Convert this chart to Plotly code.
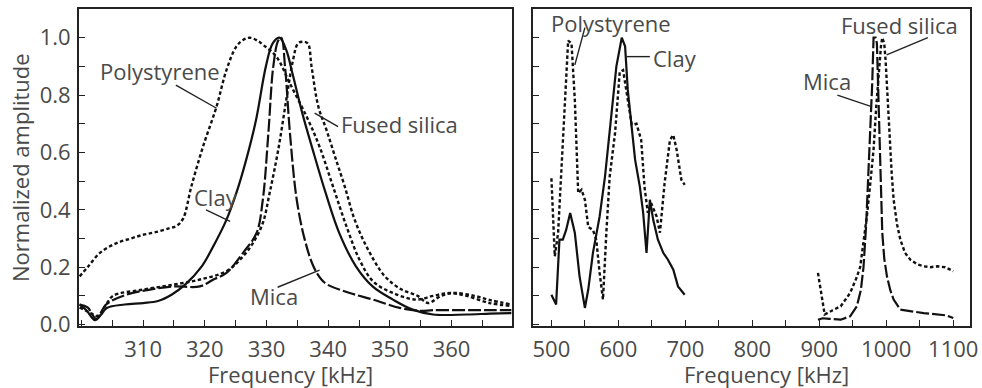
import plotly.graph_objects as go
from plotly.subplots import make_subplots

# ---------------- Left panel data (300-370 kHz) ----------------
ps_l_x = [299.7, 301, 303, 305.7, 308, 310, 312, 314.3, 315.5, 316.5, 317.8, 319.7, 321.9, 323.5, 325.1, 326.2,
          327.3, 328.5, 329.5, 331.6, 333.8, 336.5, 338.6, 340.8, 343, 345.1, 347.3, 350.5, 354.3, 357, 359.7, 362.4, 366.2, 369.7]
ps_l_y = [0.168, 0.2, 0.25, 0.284, 0.3, 0.313, 0.322, 0.336, 0.345, 0.37, 0.48, 0.62, 0.76, 0.887, 0.969, 0.992,
          1.0, 0.99, 0.974, 0.934, 0.84, 0.725, 0.62, 0.48, 0.34, 0.225, 0.15, 0.11, 0.087, 0.1, 0.11, 0.1, 0.075, 0.065]

clay_l_x = [299.7, 300.8, 302.2, 303.2, 304.1, 307, 310, 312.4, 314.6, 316.8, 319.5, 321.3, 323.5, 325.1, 326.7,
            328.3, 329.9, 331, 332.1, 333.2, 334.2, 335.8, 337.5, 339.6, 341.8, 344.5, 347.2, 350.5, 353.7, 357, 362.4, 366.2, 369.7]
clay_l_y = [0.07, 0.05, 0.015, 0.035, 0.058, 0.07, 0.075, 0.082, 0.104, 0.139, 0.203, 0.27, 0.365, 0.458, 0.574,
            0.713, 0.9, 0.98, 1.0, 0.957, 0.876, 0.737, 0.609, 0.458, 0.319, 0.203, 0.133, 0.087, 0.052, 0.035, 0.035, 0.038, 0.04]

mica_l_x = [299.7, 301, 302.4, 304, 307.3, 311.1, 314.9, 319.2, 321.4, 323.5, 326.2, 328.4, 329.4, 330.3, 331.1,
            331.9, 332.4, 333, 333.8, 334.9, 336.2, 337.6, 338.9, 339.9, 343.5, 347.3, 351.6, 354.9, 357, 362.4, 366.2, 369.7]
mica_l_y = [0.07, 0.06, 0.02, 0.07, 0.104, 0.122, 0.133, 0.133, 0.157, 0.18, 0.25, 0.32, 0.435, 0.667, 0.9,
            0.99, 1.0, 0.9, 0.667, 0.435, 0.296, 0.203, 0.157, 0.139, 0.11, 0.087, 0.058, 0.048, 0.05, 0.05, 0.05, 0.05]

fs_l_x = [299.7, 301.5, 302.6, 304, 305.1, 310, 314.9, 319.2, 323.5, 325.7, 327.8, 329.4, 330.5, 331.9, 333.2,
          334.3, 335.1, 335.9, 336.7, 337.3, 338.4, 339.7, 341.1, 342.7, 344.3, 346.5, 349.2, 351.9, 354.5, 356.2, 358.3, 360.4, 363.7, 366.3, 369.7]
fs_l_y = [0.06, 0.04, 0.03, 0.07, 0.1, 0.122, 0.139, 0.157, 0.186, 0.226, 0.284, 0.354, 0.458, 0.609, 0.783,
          0.922, 0.98, 0.986, 0.98, 0.9, 0.76, 0.68, 0.586, 0.48, 0.365, 0.26, 0.168, 0.122, 0.1, 0.075, 0.1, 0.11, 0.1, 0.085, 0.07]

# ---------------- Right panel data (500-1100 kHz) ----------------
ps_r_x = [500, 505, 510, 515, 520, 525, 530, 535, 540, 545, 550, 555, 562, 567, 572, 577, 582, 587, 595, 602,
          607, 612, 620, 627, 634, 639, 644, 649, 657, 662, 669, 677, 682, 687, 694, 699]
ps_r_y = [0.51, 0.238, 0.32, 0.55, 0.78, 0.99, 0.98, 0.78, 0.458, 0.47, 0.435, 0.34, 0.33, 0.296, 0.18, 0.087,
          0.32, 0.516, 0.667, 0.88, 0.887, 0.818, 0.696, 0.70, 0.644, 0.48, 0.389, 0.423, 0.377, 0.32, 0.493, 0.644, 0.661, 0.609, 0.505, 0.487]

clay_r_x = [500, 507, 512, 517, 522, 528, 535, 542, 550, 555, 562, 572, 580, 587, 597, 605, 610, 614, 620, 625,
            632, 637, 642, 647, 652, 659, 667, 674, 682, 689, 699]
clay_r_y = [0.104, 0.07, 0.296, 0.296, 0.33, 0.389, 0.319, 0.168, 0.058, 0.122, 0.25, 0.377, 0.516, 0.667, 0.9, 1.0,
            0.97, 0.818, 0.69, 0.574, 0.481, 0.389, 0.25, 0.435, 0.365, 0.296, 0.25, 0.226, 0.191, 0.133, 0.104]

mica_r_x = [898, 905, 915, 932, 946, 956, 962, 966, 970, 974, 977, 979, 981, 984, 986, 988, 989, 992, 994, 997,
            1001, 1006, 1011, 1021, 1036, 1046, 1056, 1066, 1076, 1090, 1100]
mica_r_y = [0.017, 0.022, 0.02, 0.017, 0.029, 0.064, 0.12, 0.2, 0.35, 0.55, 0.72, 0.84, 1.0, 1.0, 0.98, 0.82, 0.667,
            0.45, 0.32, 0.23, 0.168, 0.12, 0.087, 0.052, 0.046, 0.042, 0.04, 0.038, 0.035, 0.032, 0.023]

fs_r_x = [898, 903, 908, 920, 932, 946, 955, 961, 966, 971, 976, 981, 985, 989, 992, 994, 997, 999, 1002, 1004,
          1008, 1011, 1016, 1021, 1028, 1036, 1046, 1056, 1066, 1076, 1088, 1100]
fs_r_y = [0.18, 0.1, 0.035, 0.05, 0.064, 0.11, 0.16, 0.2, 0.28, 0.377, 0.49, 0.61, 0.76, 0.9, 0.97, 1.0, 0.98, 0.92,
          0.78, 0.667, 0.53, 0.435, 0.35, 0.296, 0.25, 0.226, 0.21, 0.203, 0.2, 0.203, 0.2, 0.186]

y_tick_vals = [0.0, 0.2, 0.4, 0.6, 0.8, 1.0]
x_tick_left = [310, 320, 330, 340, 350, 360]
x_tick_right = [500, 600, 700, 800, 900, 1000, 1100]

LINE = "#111111"
TEXT = "#4a4a4a"
FONT = "Open Sans"
FS = 22

styles = {
    "Polystyrene": dict(color=LINE, width=2.4, dash="3.5px,2.5px"),
    "Clay": dict(color=LINE, width=2.2, dash="solid"),
    "Mica": dict(color=LINE, width=2.2, dash="13px,3px"),
    "Fused silica": dict(color=LINE, width=2.4, dash="3.5px,2.5px"),
}

fig = make_subplots(rows=1, cols=2, horizontal_spacing=0.02)

def add(x, y, name, col, shape):
    fig.add_trace(go.Scatter(x=x, y=y, mode="lines", name=name, line=dict(**styles[name], shape=shape),
                             showlegend=False), row=1, col=col)

add(ps_l_x, ps_l_y, "Polystyrene", 1, "spline")
add(fs_l_x, fs_l_y, "Fused silica", 1, "spline")
add(mica_l_x, mica_l_y, "Mica", 1, "spline")
add(clay_l_x, clay_l_y, "Clay", 1, "spline")

add(ps_r_x, ps_r_y, "Polystyrene", 2, "linear")
add(clay_r_x, clay_r_y, "Clay", 2, "linear")
add(fs_r_x, fs_r_y, "Fused silica", 2, "linear")
add(mica_r_x, mica_r_y, "Mica", 2, "linear")

ydom = [62 / 388, 379 / 388]
axis_common = dict(showline=True, linecolor="#222", linewidth=1.8, mirror=True, ticks="inside",
                   ticklen=6, tickwidth=1.2, tickcolor="#222", showgrid=False, zeroline=False,
                   automargin=False, tickfont=dict(family=FONT, size=FS, color=TEXT))

fig.update_xaxes(**axis_common, ticklabelstandoff=3)
fig.update_yaxes(**axis_common, ticklabelstandoff=2)

minor_x = dict(ticks="inside", ticklen=6, tickcolor="#222", tickwidth=1.2)
fig.update_layout(
    width=982, height=388, margin=dict(l=0, r=0, t=0, b=0),
    paper_bgcolor="white", plot_bgcolor="white",
    xaxis=dict(domain=[79 / 982, 512 / 982], range=[299.6, 369.8], tickvals=x_tick_left,
               minor=dict(dtick=5, tick0=300, **minor_x)),
    xaxis2=dict(domain=[533 / 982, 970 / 982], range=[472.5, 1125], tickvals=x_tick_right,
                minor=dict(dtick=50, tick0=500, **minor_x)),
    yaxis=dict(domain=ydom, range=[-0.005, 1.1], tickvals=y_tick_vals, tickformat=".1f",
               minor=dict(dtick=0.1, tick0=0, **minor_x)),
    yaxis2=dict(domain=ydom, range=[-0.005, 1.1], tickvals=y_tick_vals, showticklabels=False,
                minor=dict(dtick=0.1, tick0=0, **minor_x)),
)

tf = dict(family=FONT, size=FS, color=TEXT)

# Axis titles
fig.add_annotation(text="Normalized amplitude", xref="paper", yref="paper", x=20 / 982, y=1 - 168 / 388,
                   textangle=-90, showarrow=False, font=tf, xanchor="center", yanchor="middle")
fig.add_annotation(text="Frequency [kHz]", xref="paper", yref="paper", x=290 / 982, y=1 - 374 / 388,
                   showarrow=False, font=tf, xanchor="center", yanchor="middle")
fig.add_annotation(text="Frequency [kHz]", xref="paper", yref="paper", x=766 / 982, y=1 - 374 / 388,
                   showarrow=False, font=tf, xanchor="center", yanchor="middle")

# Curve labels: (text, axis, label x, label y, pointer start x,y, pointer end x,y)
labels = [
    ("Polystyrene", "", 312.8, 0.885, 315.3, 0.835, 321.9, 0.754),
    ("Clay", "", 321.8, 0.445, 320.2, 0.40, 324.1, 0.36),
    ("Mica", "", 331.2, 0.10, 331.8, 0.13, 338.6, 0.19),
    ("Fused silica", "", 351.5, 0.70, 341.6, 0.69, 337.8, 0.737),
    ("Polystyrene", "2", 588.5, 1.05, 550, 1.035, 535, 0.905),
    ("Clay", "2", 685, 0.93, 647, 0.934, 612, 0.934),
    ("Mica", "2", 911, 0.85, 927, 0.80, 978, 0.76),
    ("Fused silica", "2", 1019, 1.045, 1062, 1.0, 1000.5, 0.94),
]
for text, ax, lx, ly, x0, y0, x1, y1 in labels:
    fig.add_annotation(text=text, xref="x" + ax, yref="y" + ax, x=lx, y=ly, showarrow=False, font=tf,
                       xanchor="center", yanchor="middle")
    fig.add_shape(type="line", xref="x" + ax, yref="y" + ax, x0=x0, y0=y0, x1=x1, y1=y1,
                  line=dict(color="#222", width=1.4))

fig.write_html("out.html")
